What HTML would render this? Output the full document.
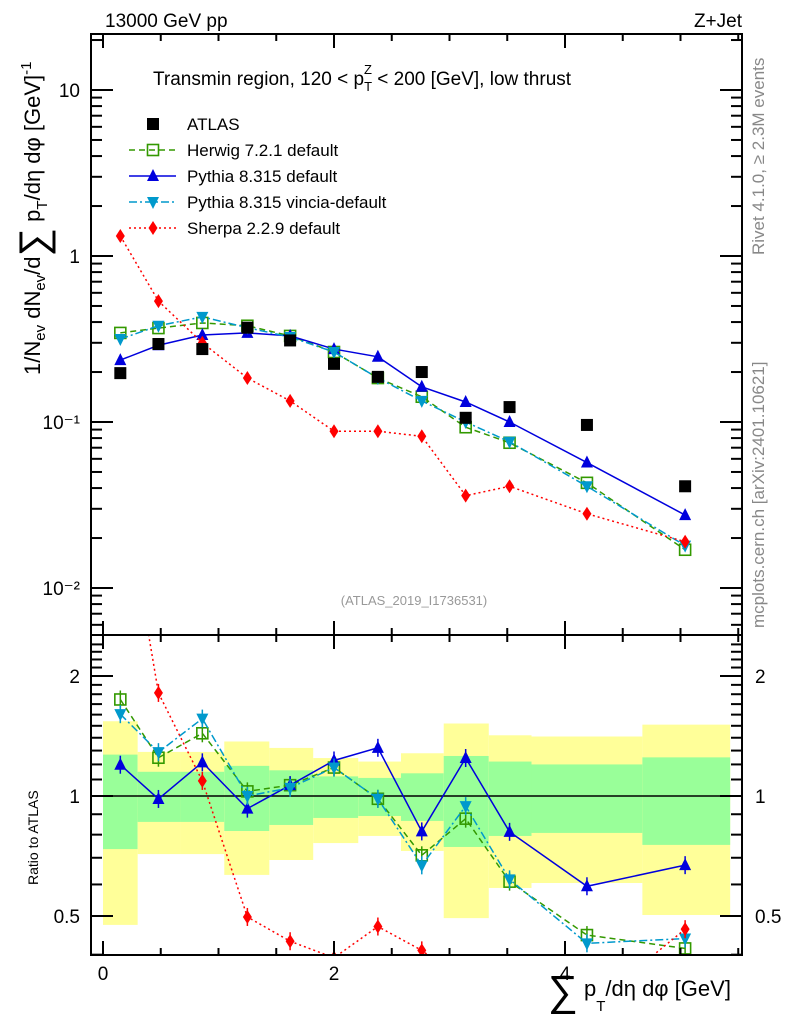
<!DOCTYPE html>
<html><head><meta charset="utf-8"><style>
html,body{margin:0;padding:0;background:#fff;}
svg{display:block;font-family:"Liberation Sans",sans-serif;}
</style></head><body>
<svg id="chart" width="786" height="1024" viewBox="0 0 786 1024" xmlns="http://www.w3.org/2000/svg">
<defs>
<clipPath id="clipMain"><rect x="91" y="34" width="651" height="601"/></clipPath>
<clipPath id="clipRatio"><rect x="91" y="635" width="651" height="320"/></clipPath>
</defs>
<g id="bands" clip-path="url(#clipRatio)"></g>
<g id="grid"></g>
<g id="mainSeries" clip-path="url(#clipMain)"></g>
<g id="ratioSeries" clip-path="url(#clipRatio)"></g>
<rect x="91" y="34" width="651" height="601" fill="none" stroke="#000" stroke-width="2"/>
<rect x="91" y="635" width="651" height="320" fill="none" stroke="#000" stroke-width="2"/>
<g id="axes"></g>
<text x="105" y="27" font-size="19">13000 GeV pp</text>
<text x="742" y="27" font-size="19" text-anchor="end">Z+Jet</text>
<text x="153" y="85" font-size="19">Transmin region, 120 &lt; p<tspan font-size="13" dy="6">T</tspan><tspan font-size="13" dx="-8" dy="-17">Z</tspan><tspan font-size="19" dy="11"> &lt; 200 [GeV], low thrust</tspan></text>
<text x="414" y="605" font-size="13" fill="#999" text-anchor="middle">(ATLAS_2019_I1736531)</text>
<text transform="translate(764,255) rotate(-90)" font-size="17" fill="#888">Rivet 4.1.0, ≥ 2.3M events</text>
<text transform="translate(764,628) rotate(-90)" font-size="17" fill="#888">mcplots.cern.ch [arXiv:2401.10621]</text>
<text transform="translate(40,375) rotate(-90)" font-size="22">1/N<tspan font-size="15" dy="5">ev</tspan><tspan dy="-5"> dN</tspan><tspan font-size="15" dy="5">ev</tspan><tspan dy="-5">/d</tspan><tspan font-size="40" dy="7">∑</tspan><tspan dy="-7"> p</tspan><tspan font-size="15" dy="7">T</tspan><tspan dy="-7">/dη dφ  [GeV]</tspan><tspan font-size="15" dy="-9">-1</tspan></text>
<text transform="translate(38,885) rotate(-90)" font-size="14">Ratio to ATLAS</text>
<text x="548" y="1005" font-size="22"><tspan font-size="42" dy="0">∑</tspan><tspan dx="6" dy="-9">p</tspan><tspan font-size="15" dy="15">T</tspan><tspan dy="-15">/dη dφ [GeV]</tspan></text>
<g id="legend"></g>
</svg>
<script>
const edges=[0,0.30,0.675,1.05,1.44,1.82,2.21,2.58,2.95,3.34,3.71,4.67,5.43];
const xs=[0.15,0.48,0.86,1.25,1.62,2.0,2.38,2.76,3.14,3.52,4.19,5.04];
const atlas=[0.197,0.295,0.275,0.37,0.31,0.224,0.187,0.2,0.106,0.123,0.096,0.041];
const herwig=[0.344,0.368,0.395,0.38,0.33,0.264,0.184,0.142,0.093,0.075,0.043,0.017];
const pythia=[0.236,0.29,0.334,0.344,0.33,0.275,0.247,0.163,0.132,0.1,0.057,0.0275];
const vincia=[0.316,0.38,0.43,0.37,0.325,0.264,0.184,0.134,0.1,0.076,0.041,0.018];
const sherpa=[1.32,0.535,0.3,0.184,0.134,0.088,0.088,0.082,0.036,0.041,0.028,0.019];
const yelLo=[0.475,0.715,0.715,0.634,0.691,0.762,0.794,0.728,0.494,0.588,0.605,0.503];
const yelHi=[1.54,1.29,1.29,1.37,1.32,1.245,1.22,1.28,1.52,1.42,1.41,1.51];
const grnLo=[0.736,0.861,0.861,0.817,0.846,0.881,0.891,0.866,0.745,0.794,0.808,0.754];
const grnHi=[1.27,1.15,1.15,1.19,1.16,1.12,1.11,1.14,1.26,1.22,1.20,1.25];
const xTicks=[0,2,4];
const yMainTicks=[10,1,0.1,0.01];
const yMainLabels=["10","1","10⁻¹","10⁻²"];
const yRatioTicks=[0.5,1,2];

const NS="http://www.w3.org/2000/svg";
const X=v=>103+v*115.5;
const YM=v=>256-Math.log10(v)*166;
const YR=v=>796-Math.log10(v)*398.7;
function mk(tag,attrs,parent){const e=document.createElementNS(NS,tag);for(const k in attrs)e.setAttribute(k,attrs[k]);parent.appendChild(e);return e;}
const bands=document.getElementById('bands'),axes=document.getElementById('axes');
for(let i=0;i<xs.length;i++){
  const y=mk('rect',{x:X(edges[i]),y:YR(yelHi[i]),width:X(edges[i+1])-X(edges[i]),height:YR(yelLo[i])-YR(yelHi[i]),fill:'#ffff99'},bands);
  
  
  const g=mk('rect',{x:X(edges[i]),y:YR(grnHi[i]),width:X(edges[i+1])-X(edges[i]),height:YR(grnLo[i])-YR(grnHi[i]),fill:'#99ff99'},bands);
  
  
}
const one=mk('line',{x1:91,x2:742,y1:YR(1),y2:YR(1),stroke:'#000','stroke-width':1.5},bands);


for(let v=0;v<=5.6;v+=0.5){const major=Math.abs(v-Math.round(v/2)*2)<1e-6;const L=major?14:7;
  for(const [yb,yt] of [[635,34],[955,635]]){mk('line',{x1:X(v),x2:X(v),y1:yb,y2:yb-L,stroke:'#000','stroke-width':2},axes);mk('line',{x1:X(v),x2:X(v),y1:yt,y2:yt+L,stroke:'#000','stroke-width':2},axes);}
}
xTicks.forEach(v=>{const t=mk('text',{x:X(v),y:980,'font-size':19,'text-anchor':'middle'},axes);t.textContent=v;
  
  });
for(let d=-3;d<=1;d++)for(let m=1;m<10;m++){const v=m*Math.pow(10,d);const y=YM(v);if(y<34||y>635)continue;const L=m==1?22:11;
  mk('line',{x1:91,x2:91+L,y1:y,y2:y,stroke:'#000','stroke-width':2},axes);mk('line',{x1:742,x2:742-L,y1:y,y2:y,stroke:'#000','stroke-width':2},axes);}
yMainTicks.forEach((v,i)=>{const t=mk('text',{x:80,y:YM(v)+7,'font-size':19,'text-anchor':'end'},axes);t.textContent=yMainLabels[i];
  
  });
for(let v=0.4;v<=2.5;v+=0.1){const y=YR(v);if(y<635||y>955)continue;const maj=[0.5,1,2].some(a=>Math.abs(a-v)<1e-6);const L=maj?22:11;
  mk('line',{x1:91,x2:91+L,y1:y,y2:y,stroke:'#000','stroke-width':2},axes);mk('line',{x1:742,x2:742-L,y1:y,y2:y,stroke:'#000','stroke-width':2},axes);}
yRatioTicks.forEach(v=>{const t=mk('text',{x:80,y:YR(v)+7,'font-size':19,'text-anchor':'end'},axes);t.textContent=v;
  
  
  const t2=mk('text',{x:755,y:YR(v)+7,'font-size':19},axes);t2.textContent=v;
  
  });

function marker(g,type,x,y,col){
  if(type=='sq')mk('rect',{x:x-6,y:y-6,width:12,height:12,fill:'#000'},g);
  else if(type=='osq')mk('rect',{x:x-5.5,y:y-5.5,width:11,height:11,fill:'#fff','fill-opacity':0,stroke:col,'stroke-width':1.6},g);
  else if(type=='up')mk('polygon',{points:`${x},${y-7} ${x-6},${y+5} ${x+6},${y+5}`,fill:col},g);
  else if(type=='dn')mk('polygon',{points:`${x},${y+7} ${x-6},${y-5} ${x+6},${y-5}`,fill:col},g);
  else if(type=='dia')mk('polygon',{points:`${x},${y-7} ${x-4.5},${y} ${x},${y+7} ${x+4.5},${y}`,fill:col},g);
}
const series=[
 {name:'herwig',vals:herwig,col:'#339900',dash:'6,4',m:'osq',label:'Herwig 7.2.1 default'},
 {name:'pythia',vals:pythia,col:'#0000dd',dash:'',m:'up',label:'Pythia 8.315 default'},
 {name:'vincia',vals:vincia,col:'#0099cc',dash:'8,3,2,3',m:'dn',label:'Pythia 8.315 vincia-default'},
 {name:'sherpa',vals:sherpa,col:'#ff0000',dash:'2,3',m:'dia',label:'Sherpa 2.2.9 default'}];
const mainG=document.getElementById('mainSeries'),ratG=document.getElementById('ratioSeries');
series.forEach(s=>{
  const g=mk('g',{},mainG);
  
  
  mk('polyline',{points:xs.map((x,i)=>X(x)+','+YM(s.vals[i])).join(' '),fill:'none',stroke:s.col,'stroke-width':1.5,'stroke-dasharray':s.dash},g);
  xs.forEach((x,i)=>marker(g,s.m,X(x),YM(s.vals[i]),s.col));
  const r=mk('g',{},ratG);
  
  
  mk('polyline',{points:xs.map((x,i)=>X(x)+','+YR(s.vals[i]/atlas[i])).join(' '),fill:'none',stroke:s.col,'stroke-width':1.5,'stroke-dasharray':s.dash},r);
  xs.forEach((x,i)=>{const y=YR(s.vals[i]/atlas[i]);mk('line',{x1:X(x),x2:X(x),y1:y-9,y2:y+9,stroke:s.col,'stroke-width':1.5},r);marker(r,s.m,X(x),y,s.col);});
});
const ag=mk('g',{},mainG);


xs.forEach((x,i)=>marker(ag,'sq',X(x),YM(atlas[i]),'#000'));
const lg=document.getElementById('legend');
const ents=[{label:'ATLAS',m:'sq',col:'#000',dash:null}].concat(series);
ents.forEach((s,i)=>{const y=124+i*26;const e=mk('g',{},lg);
  
  
  if(s.dash!==null&&s.dash!==undefined)mk('line',{x1:129,x2:176,y1:y,y2:y,stroke:s.col,'stroke-width':1.5,'stroke-dasharray':s.dash},e);
  marker(e,s.m,153,y,s.col);
  const t=mk('text',{x:187,y:y+6,'font-size':17},e);t.textContent=s.label;});
</script>
</body></html>
